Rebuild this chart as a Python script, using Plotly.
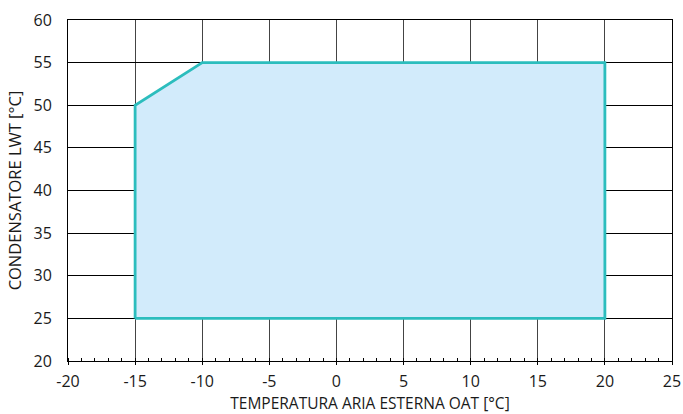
import plotly.graph_objects as go

oat = [-15, -15, -10, 20, 20, -15]
lwt = [25, 50, 55, 55, 25, 25]

x_ticks = [-20, -15, -10, -5, 0, 5, 10, 15, 20, 25]
y_ticks = [20, 25, 30, 35, 40, 45, 50, 55, 60]

fig = go.Figure()
fig.add_trace(go.Scatter(
    x=oat, y=lwt, mode="lines", fill="toself",
    fillcolor="#d2ebfb", line=dict(color="#2cbdbd", width=2.8),
    hoverinfo="skip", showlegend=False,
))

font = dict(family="Open Sans, Noto Sans, sans-serif", color="#1a1a1a")
fig.update_layout(
    width=683, height=414,
    margin=dict(l=68, r=11, t=20, b=53, autoexpand=False),
    paper_bgcolor="white", plot_bgcolor="white",
    font=font,
    xaxis=dict(
        range=[-20, 25], tickvals=x_ticks, ticktext=[str(v) for v in x_ticks],
        showgrid=True, gridcolor="#444444", gridwidth=1,
        zeroline=False, showline=True, linecolor="black", linewidth=1, mirror=True,
        ticks="outside", ticklen=3, tickcolor="black", ticklabelstandoff=3,
        minor=dict(dtick=1, ticks="inside", ticklen=3, tickcolor="black", showgrid=False),
        tickfont=dict(size=16), automargin=False,
        title=dict(text="TEMPERATURA ARIA ESTERNA OAT [°C]", font=dict(size=15.5), standoff=0),
    ),
    yaxis=dict(
        range=[20, 60], tickvals=y_ticks, ticktext=[str(v) for v in y_ticks],
        showgrid=True, gridcolor="black", gridwidth=1,
        zeroline=False, showline=True, linecolor="black", linewidth=1, mirror=True,
        ticks="", tickfont=dict(size=16), ticklabelstandoff=12, automargin=False,
        title=dict(text="CONDENSATORE LWT [°C]", font=dict(size=16.5), standoff=7),
    ),
)

fig.write_html(
    "out.html",
    config={"displayModeBar": False},
    post_script="document.body.style.margin='0';document.body.style.overflow='hidden';",
)
